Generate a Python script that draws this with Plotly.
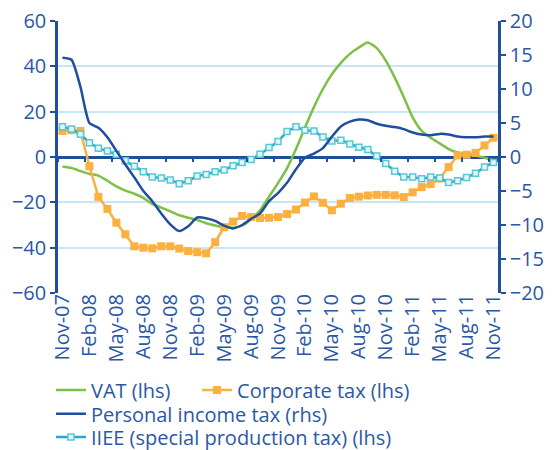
import pandas as pd
import plotly.graph_objects as go

months = list(pd.date_range("2007-11-01", periods=49, freq="MS").strftime("%b-%y"))
tick_labels = months[::3]

vat = [-4.3, -4.8, -6.2, -7.5, -8.2, -10.5, -13.0, -14.8, -16.2, -18.0,
       -20.7, -22.3, -24.0, -25.7, -26.8, -27.8, -29.2, -30.2, -31.0, -31.2,
       -30.3, -27.5, -23.5, -17.5, -11.5, -5.0, 3.5, 13.0, 22.0, 30.0,
       36.5, 41.5, 45.5, 48.3, 50.5, 48.0, 42.5, 35.0, 26.5, 17.5,
       11.5, 8.5, 6.0, 3.5, 2.0, 1.2, 0.6, -0.3, -1.5]

corporate = [11.5, 11.8, 11.5, -4.1, -17.6, -22.9, -29.0, -34.1, -39.4, -40.0,
             -40.3, -39.4, -39.4, -40.4, -41.5, -42.0, -42.5, -37.6, -31.0, -28.5,
             -26.0, -26.5, -26.9, -26.8, -26.5, -25.2, -23.2, -20.1, -17.4, -20.2,
             -23.5, -20.6, -18.1, -17.5, -17.0, -16.7, -16.7, -16.9, -17.7, -15.6,
             -13.3, -12.0, -9.5, -4.4, 0.7, 1.0, 1.8, 5.1, 8.5]

personal = [14.6, 14.3, 10.3, 5.0, 4.3, 2.9, 0.9, -1.1, -3.0, -5.0,
            -6.5, -8.3, -9.9, -10.9, -10.2, -8.9, -9.0, -9.4, -10.1, -10.5,
            -10.0, -9.1, -8.3, -6.5, -5.3, -3.8, -1.8, -0.1, 0.5, 1.3,
            3.0, 4.5, 5.2, 5.5, 5.4, 4.9, 4.6, 4.4, 4.1, 3.6,
            3.3, 3.2, 3.4, 3.3, 3.0, 2.9, 2.9, 3.0, 3.0]

iiee = [13.3, 12.4, 10.0, 6.3, 3.9, 2.7, 1.2, -1.7, -4.1, -6.5,
        -8.8, -9.3, -10.1, -11.8, -10.5, -8.4, -7.7, -6.5, -5.7, -3.9,
        -2.4, -1.1, 1.2, 4.2, 6.8, 11.3, 13.3, 11.8, 11.5, 8.8,
        7.1, 7.4, 5.7, 4.3, 3.3, 0.4, -2.9, -6.3, -8.8, -8.8,
        -9.6, -8.8, -9.3, -11.2, -10.5, -9.0, -7.2, -4.4, -2.4]

TXT = "#2a58a6"
AX = "#1f4e9c"
GRID = "#c4e6f6"
FONT = "Open Sans"

fig = go.Figure()
fig.add_trace(go.Scatter(x=months, y=vat, name="VAT (lhs)", mode="lines",
                         line=dict(color="#7cc144", width=2.5, shape="spline", smoothing=0.6),
                         legend="legend", showlegend=True))
fig.add_trace(go.Scatter(x=months, y=corporate, name="Corporate tax (lhs)", mode="lines+markers",
                         line=dict(color="#fbb03f", width=2.5),
                         marker=dict(symbol="square", size=8, color="#fbb03f"),
                         legend="legend2", showlegend=True))
fig.add_trace(go.Scatter(x=months, y=personal, name="Personal income tax (rhs)", mode="lines",
                         line=dict(color="#1f4e9e", width=2.5, shape="spline", smoothing=0.6),
                         yaxis="y2", legend="legend3", showlegend=True))
fig.add_trace(go.Scatter(x=months, y=iiee, name="IIEE (special production tax) (lhs)", mode="lines+markers",
                         line=dict(color="#29a4d8", width=2.5),
                         marker=dict(symbol="square", size=6, color="#e4f6f8",
                                     line=dict(color="#55c9d3", width=1.5)),
                         legend="legend4", showlegend=True))

leg = dict(xanchor="left", yanchor="middle", orientation="v", visible=True,
           font=dict(family=FONT, size=20, color=TXT), bgcolor="rgba(0,0,0,0)")

# page body has an 8px margin, so the figure is 8px smaller and margins shifted
fig.update_layout(
    width=547, height=442,
    showlegend=True,
    margin=dict(l=50, r=57, t=13, b=157, autoexpand=False),
    paper_bgcolor="white", plot_bgcolor="white",
    font=dict(family=FONT, size=20, color=TXT),
    xaxis=dict(type="category", categoryorder="array", categoryarray=months,
               tickvals=tick_labels, ticktext=tick_labels, tickangle=-90,
               tickson="boundaries", ticks="outside", ticklen=4, tickwidth=1.5, tickcolor=AX,
               anchor="free", position=0.5, showline=False, showgrid=False, zeroline=False,
               ticklabelstandoff=132, range=[-0.5, 48.5], automargin=False,
               ticklabeloverflow="allow",
               tickfont=dict(family=FONT, size=20, color=TXT)),
    yaxis=dict(range=[-60, 60], dtick=20, showgrid=True, gridcolor=GRID, gridwidth=1.5,
               zeroline=True, zerolinecolor=AX, zerolinewidth=2.5,
               showline=True, linecolor=AX, linewidth=2.5, automargin=False,
               ticks="outside", ticklen=5, tickwidth=2, tickcolor=AX,
               ticklabeloverflow="allow",
               tickfont=dict(family=FONT, size=20, color=TXT)),
    yaxis2=dict(range=[-20, 20], dtick=5, overlaying="y", side="right", anchor="x",
                showgrid=False, zeroline=False, automargin=False,
                showline=True, linecolor=AX, linewidth=2.5,
                ticks="outside", ticklen=5, tickwidth=2, tickcolor=AX,
                ticklabeloverflow="allow",
                tickfont=dict(family=FONT, size=20, color=TXT)),
    legend=dict(leg, x=-0.016, y=-0.357),
    legend2=dict(leg, x=0.316, y=-0.357),
    legend3=dict(leg, x=-0.016, y=-0.444),
    legend4=dict(leg, x=-0.016, y=-0.529),
)

fig.write_html("out.html")
